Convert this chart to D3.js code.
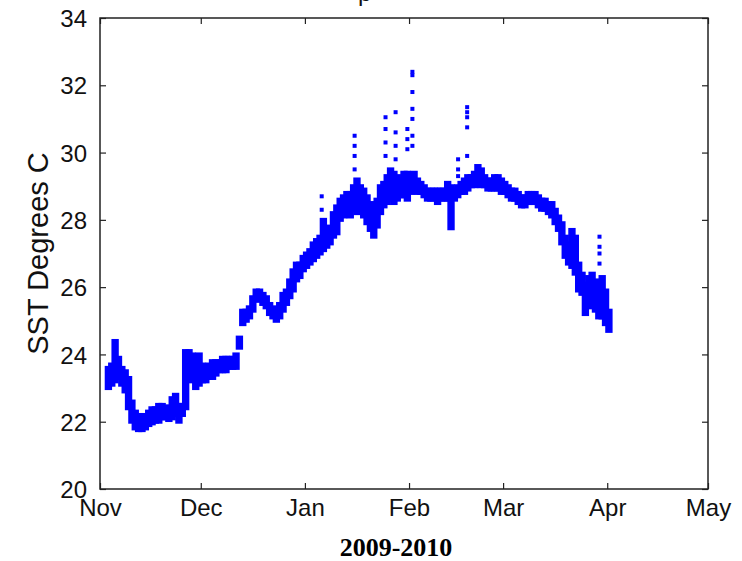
<!DOCTYPE html>
<html>
<head>
<meta charset="utf-8">
<script src="https://cdnjs.cloudflare.com/ajax/libs/d3/7.8.5/d3.min.js"></script>
<style>
  body { margin: 0; background: #fff; }
  .tick text { font-family: "Liberation Sans", Arial, sans-serif; }
</style>
</head>
<body>
<script>
var days = [2,3,4,5,6,7,8,9,10,11,12,13,14,15,16,17,18,19,20,21,22,23,24,25,26,27,28,29,30,
  31,32,33,34,35,36,37,38,39,40,41,42,43,44,45,46,47,48,49,50,51,52,53,54,55,56,57,58,59,60,
  61,62,63,64,65,66,67,68,69,70,71,72,73,74,75,76,77,78,79,80,81,82,83,84,85,86,87,88,89,90,
  91,92,93,94,95,96,97,98,99,100,101,102,103,104,105,106,107,108,109,110,111,112,113,114,115,
  116,117,118,119,120,121,122,123,124,125,126,127,128,129,130,131,132,133,134,135,136,137,138,
  139,140,141,142,143,144,145,146,147,148,149,150,151];
var lowT = [23.0,23.1,23.2,23.3,23.1,22.9,22.4,22.0,21.8,21.75,21.75,21.8,21.9,21.95,22.0,22.0,
  22.1,22.1,22.05,22.1,22.2,22.0,22.2,22.4,23.4,23.2,23.0,23.1,23.2,
  23.2,23.3,23.3,23.4,23.5,23.5,23.5,23.6,23.6,23.6,24.2,24.9,25.0,25.1,25.3,25.6,25.6,25.5,25.4,
  25.2,25.1,25.0,25.1,25.3,25.5,25.7,25.9,26.2,26.3,26.5,
  26.6,26.7,26.8,26.9,27.0,27.1,27.2,27.3,27.5,27.6,28.0,28.1,28.2,28.1,28.3,28.2,28.3,28.1,27.9,
  27.7,27.5,27.8,28.2,28.4,28.5,28.6,28.5,28.6,28.7,28.7,
  28.6,28.8,28.9,28.8,28.8,28.7,28.6,28.6,28.6,28.5,28.6,28.6,28.6,27.75,28.6,28.7,28.8,28.8,28.9,
  29.0,29.0,29.1,29.0,29.0,28.9,
  28.9,28.9,28.9,28.8,28.8,28.7,28.6,28.6,28.5,28.4,28.4,28.5,28.5,28.5,28.4,28.3,28.3,28.2,28.1,
  27.9,27.7,27.3,26.9,26.7,26.6,26.4,25.9,25.8,25.2,25.4,25.5,25.3,25.1,25.1,24.9,24.7];
var highT = [23.6,23.7,24.4,23.9,23.6,23.5,23.3,22.6,22.3,22.2,22.2,22.2,22.3,22.4,22.4,22.5,
  22.5,22.45,22.45,22.7,22.8,22.5,22.5,24.1,24.1,24.0,23.9,24.0,23.7,
  23.6,23.7,23.8,23.8,23.8,23.9,23.9,23.9,23.9,24.0,24.5,25.3,25.3,25.4,25.7,25.9,25.9,25.8,25.7,
  25.5,25.4,25.3,25.5,25.8,25.9,26.2,26.5,26.7,26.7,26.9,
  27.0,27.1,27.3,27.4,27.5,28.0,27.7,27.8,28.2,28.4,28.6,28.7,28.8,28.8,29.0,29.2,29.0,28.9,28.7,
  28.5,28.3,28.6,29.0,29.1,29.3,29.5,29.4,29.3,29.2,29.4,
  29.4,29.3,29.4,29.2,29.1,29.0,28.9,28.9,28.9,28.9,28.9,28.9,29.1,29.0,28.9,29.0,29.1,29.2,29.3,
  29.3,29.4,29.6,29.5,29.3,29.2,
  29.2,29.3,29.3,29.2,29.1,29.0,28.9,28.9,28.8,28.7,28.7,28.8,28.8,28.8,28.7,28.6,28.6,28.5,28.5,
  28.3,28.1,27.9,27.5,27.3,27.7,27.5,26.7,26.4,26.1,26.3,26.4,26.2,26.0,26.3,25.9,25.3];

// isolated warm readings above the main band
var spikeDay = [66,66,75.8,75.8,75.8,75.8,85,85,85,85,88,88,88,88,91.5,91.5,91.5,
  93,93,93,93,93,93,93,106.6,106.6,106.6,109.3,109.3,109.3,109.3,109.3,148.7,148.7,148.7,148.7];
var spikeT = [28.3,28.7,30.5,30.2,29.9,29.5,31.05,30.7,30.3,29.9,31.2,30.6,30.2,29.8,30.7,30.4,30.1,
  32.4,32.3,31.8,31.3,31.0,30.5,30.2,29.8,29.5,29.3,31.35,31.2,31.05,30.75,29.9,27.5,27.2,27.0,26.7];

var monthDays = [0, 30, 61, 92, 120, 151, 181];
var monthNames = ["Nov", "Dec", "Jan", "Feb", "Mar", "Apr", "May"];
var yTicks = [20, 22, 24, 26, 28, 30, 32, 34];

var W = 742, H = 561;
var margin = { top: 18, right: 34, bottom: 72, left: 100 };
var width = W - margin.left - margin.right;
var height = H - margin.top - margin.bottom;

var svg = d3.select("body").append("svg")
  .attr("width", W)
  .attr("height", H);

var g = svg.append("g")
  .attr("transform", `translate(${margin.left}, ${margin.top})`);

var x = d3.scaleLinear().domain([0, 181]).range([0, width]);
var y = d3.scaleLinear().domain([20, 34]).range([height, 0]);

// daily range band
var m = 2;
g.selectAll("rect.band")
  .data(days)
  .enter()
  .append("rect")
  .attr("class", "band")
  .attr("x", (d, i) => x(d) - m)
  .attr("width", (d, i) => x(d + 1) - x(d) + 2 * m)
  .attr("y", (d, i) => y(highT[i]) - m)
  .attr("height", (d, i) => y(lowT[i]) - y(highT[i]) + 2 * m)
  .attr("fill", "#0000ff");

g.selectAll("rect.spike")
  .data(spikeDay)
  .enter()
  .append("rect")
  .attr("class", "spike")
  .attr("x", d => x(d) - 2)
  .attr("y", (d, i) => y(spikeT[i]) - 2)
  .attr("width", 4)
  .attr("height", 4)
  .attr("fill", "#0000ff");

// matlab style box with inward ticks
var tickLen = 6;
var xAxis = g.append("g")
  .attr("transform", `translate(0, ${height})`)
  .call(d3.axisBottom(x).tickValues(monthDays)
    .tickFormat((d, i) => monthNames[i])
    .tickSizeInner(-tickLen).tickSizeOuter(0).tickPadding(tickLen + 4));
xAxis.selectAll("text").attr("font-size", 24).attr("fill", "#111");

var yAxis = g.append("g")
  .call(d3.axisLeft(y).tickValues(yTicks)
    .tickSizeInner(-tickLen).tickSizeOuter(0).tickPadding(tickLen + 7));
yAxis.selectAll("text").attr("font-size", 24).attr("fill", "#111").attr("dy", "0.36em");

g.append("g")
  .call(d3.axisTop(x).tickValues(monthDays).tickFormat("")
    .tickSizeInner(-tickLen).tickSizeOuter(0));
g.append("g")
  .attr("transform", `translate(${width}, 0)`)
  .call(d3.axisRight(y).tickValues(yTicks).tickFormat("")
    .tickSizeInner(-tickLen).tickSizeOuter(0));

g.selectAll(".domain").remove();
g.selectAll(".tick line").attr("stroke", "#222").attr("stroke-width", 1.2);

g.append("rect")
  .attr("width", width)
  .attr("height", height)
  .attr("fill", "none")
  .attr("stroke", "#222")
  .attr("stroke-width", 1.5);

// y label
svg.append("text")
  .attr("transform", `translate(48, ${margin.top + height / 2}) rotate(-90)`)
  .attr("text-anchor", "middle")
  .attr("font-family", "Liberation Sans, Arial, sans-serif")
  .attr("font-size", 29)
  .attr("fill", "#111")
  .text("SST Degrees C");

// x label
svg.append("text")
  .attr("x", 396)
  .attr("y", 556)
  .attr("text-anchor", "middle")
  .attr("font-family", "Liberation Serif, Times New Roman, serif")
  .attr("font-weight", "bold")
  .attr("font-size", 26)
  .attr("fill", "#000")
  .text("2009-2010");

// title, cut off at the top of the image
svg.append("text")
  .attr("x", 358)
  .attr("y", 1)
  .attr("font-family", "Liberation Sans, Arial, sans-serif")
  .attr("font-size", 24)
  .attr("fill", "#111")
  .text("p");
</script>
</body>
</html>
